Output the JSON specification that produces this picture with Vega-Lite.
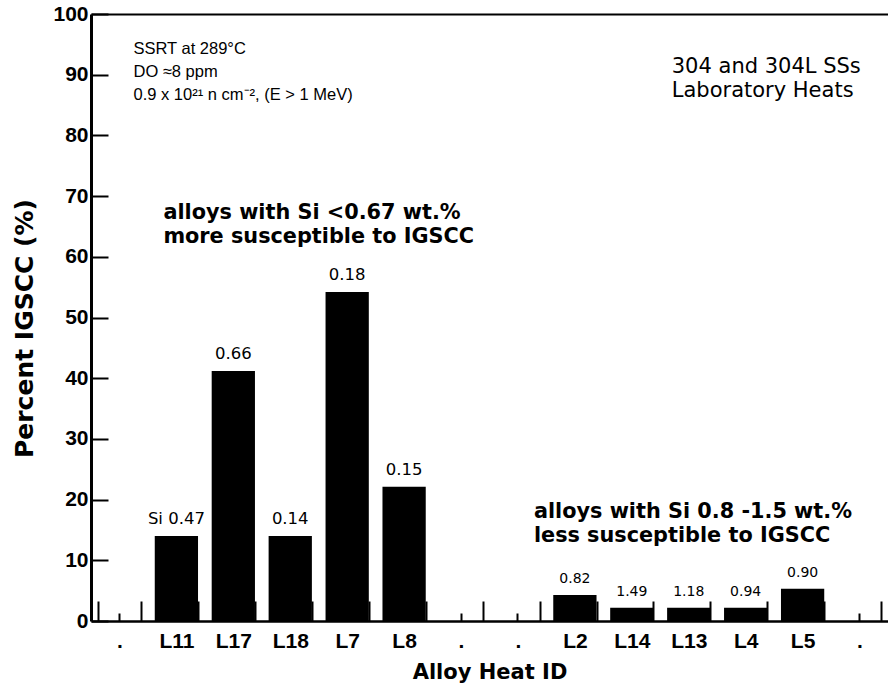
{
  "$schema": "https://vega.github.io/schema/vega-lite/v6.json",
  "width": 797,
  "height": 607,
  "autosize": {"type": "none"},
  "padding": {"left": 91, "top": 14, "right": 0, "bottom": 67},
  "background": "white",
  "config": {
    "view": {"stroke": null},
    "axis": {"grid": false, "domainColor": "black", "tickColor": "black", "labelColor": "black", "titleColor": "black"}
  },
  "datasets": {
    "heats": [
      {"heat": ".", "value": null, "si": null, "group": "low"},
      {"heat": "L11", "value": 14.0, "si": "Si 0.47", "group": "low"},
      {"heat": "L17", "value": 41.2, "si": "0.66", "group": "low"},
      {"heat": "L18", "value": 14.0, "si": "0.14", "group": "low"},
      {"heat": "L7", "value": 54.2, "si": "0.18", "group": "low"},
      {"heat": "L8", "value": 22.1, "si": "0.15", "group": "low"},
      {"heat": " .", "value": null, "si": null, "group": "low"},
      {"heat": "  .", "value": null, "si": null, "group": "high"},
      {"heat": "L2", "value": 4.3, "si": "0.82", "group": "high"},
      {"heat": "L14", "value": 2.2, "si": "1.49", "group": "high"},
      {"heat": "L13", "value": 2.2, "si": "1.18", "group": "high"},
      {"heat": "L4", "value": 2.2, "si": "0.94", "group": "high"},
      {"heat": "L5", "value": 5.3, "si": "0.90", "group": "high"},
      {"heat": "   .", "value": null, "si": null, "group": "high"}
    ]
  },
  "resolve": {"axis": {"x": "independent"}},
  "layer": [
    {
      "data": {"name": "heats"},
      "mark": {"type": "bar", "color": "black"},
      "encoding": {
        "x": {
          "field": "heat", "type": "nominal", "sort": null,
          "scale": {"domain": [".", "L11", "L17", "L18", "L7", "L8", " .", "  .", "L2", "L14", "L13", "L4", "L5", "   ."], "paddingInner": 0.24, "paddingOuter": 0.12},
          "axis": {
            "orient": "bottom", "tickBand": "extent", "tickSize": -20, "tickWidth": 2, "domainWidth": 2.5,
            "labelExpr": "datum.value ? trim(datum.value) : ''", "labelAngle": 0, "labelFont": "Liberation Sans", "labelFontWeight": "bold",
            "labelFontSize": 21, "labelPadding": 29, "labelBaseline": "top",
            "title": "Alloy Heat ID", "titleFont": "DejaVu Sans", "titleFontWeight": "bold", "titleFontSize": 21, "titlePadding": 10
          }
        },
        "y": {
          "field": "value", "type": "quantitative",
          "scale": {"domain": [0, 100], "nice": false, "zero": true},
          "axis": {
            "values": [0, 5, 10, 15, 20, 25, 30, 35, 40, 45, 50, 55, 60, 65, 70, 75, 80, 85, 90, 95, 100],
            "labelExpr": "datum.value % 10 === 0 ? datum.label : ''",
            "tickSize": {"condition": {"test": "datum.value % 10 === 0", "value": -17}, "value": -7},
            "tickWidth": 2, "domainWidth": 3,
            "labelFont": "Liberation Sans", "labelFontWeight": "bold", "labelFontSize": 21, "labelPadding": 20,
            "title": "Percent IGSCC (%)", "titleFont": "DejaVu Sans", "titleFontWeight": "bold", "titleFontSize": 25, "titlePadding": 15, "titleY": 314
          }
        }
      }
    },
    {
      "data": {"name": "heats"},
      "transform": [{"filter": "datum.si != null"}],
      "mark": {"type": "text", "baseline": "alphabetic", "align": "center", "dy": -12, "font": "DejaVu Sans", "color": "black"},
      "encoding": {
        "x": {
          "field": "heat", "type": "nominal", "sort": null,
          "scale": {"domain": [".", "L11", "L17", "L18", "L7", "L8", " .", "  .", "L2", "L14", "L13", "L4", "L5", "   ."]},
          "axis": {"orient": "bottom", "tickBand": "center", "tickSize": -8, "tickWidth": 2, "labels": false, "domain": false, "title": null}
        },
        "y": {"field": "value", "type": "quantitative", "scale": {"domain": [0, 100]}},
        "text": {"field": "si"},
        "size": {"field": "group", "type": "nominal", "scale": {"domain": ["low", "high"], "range": [16.5, 14]}, "legend": null}
      }
    },
    {
      "data": {"values": [{"heat": ".", "value": 95.6, "note": "SSRT at 289°C\nDO ≈8 ppm\n0.9 x 10²¹ n cm⁻², (E > 1 MeV)"}]},
      "mark": {"type": "text", "align": "left", "baseline": "top", "dx": 14, "font": "Liberation Sans", "fontSize": 16.5, "lineBreak": "\n", "lineHeight": 23, "color": "black"},
      "encoding": {
        "x": {
          "field": "heat", "type": "nominal", "sort": null,
          "scale": {"domain": [".", "L11", "L17", "L18", "L7", "L8", " .", "  .", "L2", "L14", "L13", "L4", "L5", "   ."]},
          "axis": {"orient": "top", "labels": false, "ticks": false, "title": null, "domainWidth": 2}
        },
        "y": {"field": "value", "type": "quantitative", "scale": {"domain": [0, 100]}},
        "text": {"field": "note"}
      }
    },
    {
      "data": {"values": [{"heat": "L13", "value": 93.1, "note": "304 and 304L SSs\nLaboratory Heats"}]},
      "mark": {"type": "text", "align": "left", "baseline": "top", "dx": -17, "font": "DejaVu Sans", "fontSize": 21, "lineBreak": "\n", "lineHeight": 24, "color": "black"},
      "encoding": {
        "x": {"field": "heat", "type": "nominal", "sort": null, "scale": {"domain": [".", "L11", "L17", "L18", "L7", "L8", " .", "  .", "L2", "L14", "L13", "L4", "L5", "   ."]}, "axis": null},
        "y": {"field": "value", "type": "quantitative", "scale": {"domain": [0, 100]}},
        "text": {"field": "note"}
      }
    },
    {
      "data": {"values": [{"heat": "L11", "value": 68.9, "note": "alloys with Si <0.67 wt.%\nmore susceptible to IGSCC"}]},
      "mark": {"type": "text", "align": "left", "baseline": "top", "dx": -13, "font": "DejaVu Sans", "fontWeight": "bold", "fontSize": 20.8, "lineBreak": "\n", "lineHeight": 24, "color": "black"},
      "encoding": {
        "x": {"field": "heat", "type": "nominal", "sort": null, "scale": {"domain": [".", "L11", "L17", "L18", "L7", "L8", " .", "  .", "L2", "L14", "L13", "L4", "L5", "   ."]}, "axis": null},
        "y": {"field": "value", "type": "quantitative", "scale": {"domain": [0, 100]}},
        "text": {"field": "note"}
      }
    },
    {
      "data": {"values": [{"heat": "L2", "value": 19.6, "note": "alloys with Si 0.8 -1.5 wt.%\nless susceptible to IGSCC"}]},
      "mark": {"type": "text", "align": "left", "baseline": "top", "dx": -41, "font": "DejaVu Sans", "fontWeight": "bold", "fontSize": 20.8, "lineBreak": "\n", "lineHeight": 24, "color": "black"},
      "encoding": {
        "x": {"field": "heat", "type": "nominal", "sort": null, "scale": {"domain": [".", "L11", "L17", "L18", "L7", "L8", " .", "  .", "L2", "L14", "L13", "L4", "L5", "   ."]}, "axis": null},
        "y": {"field": "value", "type": "quantitative", "scale": {"domain": [0, 100]}},
        "text": {"field": "note"}
      }
    }
  ]
}
